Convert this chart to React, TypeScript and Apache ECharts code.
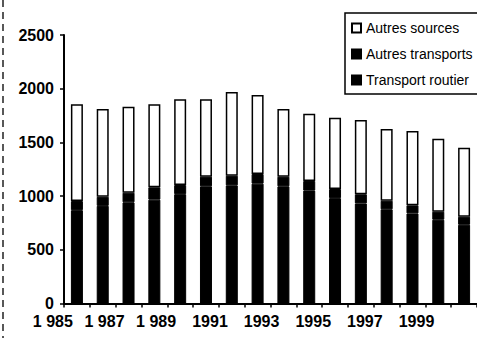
import React, { useEffect, useRef } from "react";
import * as echarts from "echarts";

// Years on the category axis (French thousands spacing on the early ones)
const years = [
  "1 985", "1 986", "1 987", "1 988", "1 989", "1 990", "1991", "1992",
  "1993", "1994", "1995", "1996", "1997", "1998", "1999", "2000",
];

// Stacked values, bottom to top
const transportRoutier = [869, 909, 942, 967, 1018, 1091, 1100, 1116, 1091, 1051, 981, 932, 877, 839, 780, 733];
const autresTransports = [85, 85, 90, 115, 85, 90, 90, 90, 90, 90, 85, 85, 80, 75, 75, 75];
const autresSources = [901, 817, 800, 773, 798, 720, 779, 735, 630, 626, 664, 692, 668, 692, 679, 643];

const yTicks = [0, 500, 1000, 1500, 2000, 2500];

const FONT = "'Liberation Sans', Arial, sans-serif";

export default function App() {
  const ref = useRef<HTMLDivElement>(null);

  useEffect(() => {
    if (!ref.current) return;
    const chart = echarts.init(ref.current, undefined, { renderer: "svg" });
    const barBase = {
      type: "bar" as const,
      stack: "total",
      barWidth: 12,
    };
    chart.setOption({
      animation: false,
      backgroundColor: "#ffffff",
      grid: { left: 64, right: -14, top: 35, bottom: 34.5, containLabel: false },
      legend: {
        orient: "vertical",
        left: 345,
        top: 13,
        padding: [8, 8, 7, 6],
        itemGap: 12,
        itemWidth: 9,
        itemHeight: 9,
        icon: "rect",
        borderColor: "#000",
        borderWidth: 1.5,
        backgroundColor: "#fff",
        data: ["Autres sources", "Autres transports", "Transport routier"],
        textStyle: { fontFamily: FONT, fontSize: 14, color: "#000" },
      },
      xAxis: {
        type: "category",
        data: years,
        boundaryGap: true,
        axisLine: { lineStyle: { color: "#000", width: 2 } },
        axisTick: { show: true, length: 4, alignWithLabel: false, interval: 0, lineStyle: { color: "#000", width: 1.5 } },
        axisLabel: {
          interval: 1,
          align: "right",
          padding: [0, 4, 0, 0],
          margin: 10,
          fontFamily: FONT,
          fontSize: 16,
          fontWeight: "bold",
          color: "#000",
        },
      },
      yAxis: {
        type: "value",
        min: yTicks[0],
        max: yTicks[yTicks.length - 1],
        interval: 500,
        splitLine: { show: false },
        axisLine: { show: true, lineStyle: { color: "#000", width: 2 } },
        axisTick: { show: true, length: 4, lineStyle: { color: "#000", width: 1.5 } },
        axisLabel: {
          margin: 10,
          formatter: (v: number) => String(v),
          fontFamily: FONT,
          fontSize: 16,
          fontWeight: "bold",
          color: "#000",
        },
      },
      series: [
        {
          ...barBase,
          name: "Transport routier",
          data: transportRoutier,
          itemStyle: { color: "#000", borderColor: "#000", borderWidth: 1 },
        },
        {
          ...barBase,
          name: "Autres transports",
          data: autresTransports,
          itemStyle: { color: "#000", borderColor: "#000", borderWidth: 1 },
        },
        {
          ...barBase,
          name: "Autres sources",
          data: autresSources,
          itemStyle: { color: "#fff", borderColor: "#000", borderWidth: 1.5 },
        },
      ],
      graphic: [
        {
          type: "line",
          shape: { x1: 3, y1: 0, x2: 3, y2: 338 },
          style: { stroke: "#222", lineWidth: 1.5, lineDash: [7, 5] },
          silent: true,
        },
      ],
    });
    return () => chart.dispose();
  }, []);

  return (
    <div
      ref={ref}
      style={{ position: "fixed", left: 0, top: 0, width: 477, height: 338 }}
    />
  );
}
